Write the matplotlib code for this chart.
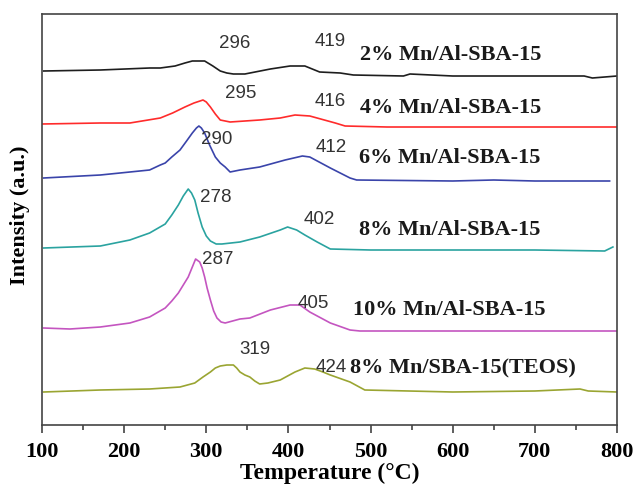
import matplotlib.pyplot as plt
from matplotlib.ticker import MultipleLocator

# TPR-type profiles, intensity in arbitrary units (stacked traces)
t_2 = [102, 171, 231, 244, 262, 274, 283, 298, 308, 317, 325, 333, 347, 378, 402, 420, 438, 463, 479, 540, 548, 600, 700, 760, 770, 800]
i_2 = [354, 355, 357, 357, 359, 362, 364, 364, 359, 354, 352, 351, 351, 356, 359, 359, 353, 352, 350, 349, 351, 349, 349, 349, 347, 349]

t_4 = [100, 171, 207, 244, 259, 274, 285, 296, 300, 305, 311, 317, 329, 347, 365, 390, 408, 426, 457, 469, 520, 600, 700, 800]
i_4 = [301, 302, 302, 307, 312, 318, 322, 325, 323, 318, 311, 305, 303, 304, 305, 307, 310, 309, 302, 299, 298, 298, 298, 298]

t_6 = [102, 171, 231, 244, 250, 258, 268, 276, 283, 288, 291, 294, 298, 304, 311, 317, 323, 329, 341, 365, 396, 417, 426, 451, 475, 483, 600, 650, 700, 791]
i_6 = [247, 250, 255, 260, 262, 268, 275, 284, 292, 297, 299, 297, 292, 280, 268, 262, 258, 253, 255, 258, 265, 269, 268, 257, 247, 245, 244, 245, 244, 244]

t_8 = [102, 171, 207, 231, 250, 258, 266, 272, 278, 282, 286, 290, 295, 300, 305, 312, 319, 341, 365, 390, 399, 410, 420, 435, 451, 500, 600, 700, 785, 795]
i_8 = [177, 179, 185, 192, 201, 210, 220, 229, 236, 232, 225, 212, 198, 189, 184, 181, 181, 183, 188, 195, 198, 195, 190, 183, 176, 175, 175, 175, 174, 178]

t_10 = [102, 134, 171, 207, 231, 250, 258, 266, 272, 278, 283, 287, 292, 295, 298, 301, 305, 309, 313, 318, 323, 341, 353, 378, 402, 414, 426, 451, 475, 487, 600, 700, 800]
i_10 = [97, 96, 98, 102, 108, 117, 124, 132, 140, 148, 158, 166, 163, 157, 148, 137, 125, 114, 107, 103, 102, 106, 107, 115, 120, 120, 113, 102, 95, 94, 94, 94, 94]

t_teos = [102, 171, 231, 268, 286, 296, 305, 311, 317, 325, 333, 337, 341, 347, 353, 359, 365, 375, 390, 408, 420, 432, 442, 451, 475, 493, 600, 700, 755, 765, 800]
i_teos = [33, 35, 36, 38, 42, 48, 53, 57, 59, 60, 60, 57, 53, 50, 48, 44, 41, 42, 45, 53, 57, 56, 53, 50, 43, 35, 33, 34, 36, 34, 33]

series = [
    (t_2, i_2, "#1e1e1e"),
    (t_4, i_4, "#ff2b2b"),
    (t_6, i_6, "#3a44aa"),
    (t_8, i_8, "#2aa3a0"),
    (t_10, i_10, "#c455c0"),
    (t_teos, i_teos, "#9aa532"),
]

names = ["2% Mn/Al-SBA-15", "4% Mn/Al-SBA-15", "6% Mn/Al-SBA-15",
         "8% Mn/Al-SBA-15", "10% Mn/Al-SBA-15", "8% Mn/SBA-15(TEOS)"]
name_pos = [(487, 370), (487, 317), (486, 267), (486, 195), (479, 115), (475, 57)]

peak_labels = ["296", "419", "295", "416", "290", "412", "278", "402", "287", "405", "319", "424"]
peak_pos = [(335, 382), (451, 383), (342, 332), (451, 323), (313, 286), (452, 278),
            (311, 227), (438, 205), (314, 165), (430, 122), (359, 75), (452, 57)]

serif = "Liberation Serif"

fig = plt.figure(figsize=(6.38, 4.84), dpi=100)
ax = fig.add_axes([42 / 638, 59 / 484, 575 / 638, 411 / 484])

for t, i, c in series:
    ax.plot(t, i, color=c, lw=1.2)

for txt, (x, y) in zip(names, name_pos):
    ax.text(x, y, txt, fontsize=16, fontweight="bold", family=serif,
            color="#1a1a1a", ha="left", va="center")

for txt, (x, y) in zip(peak_labels, peak_pos):
    ax.text(x, y, txt, fontsize=13.5, family="Liberation Sans",
            color="#333333", ha="center", va="center")

ax.set_xlim(100, 800)
ax.set_ylim(0, 411)
ax.xaxis.set_major_locator(MultipleLocator(100))
ax.xaxis.set_minor_locator(MultipleLocator(50))
ax.set_yticks([])
ax.tick_params(axis="x", which="major", direction="out", length=6, width=1.1,
               color="#333333", pad=6, labelsize=16)
ax.tick_params(axis="x", which="minor", direction="out", length=3.6, width=1.1,
               color="#333333")
for lab in ax.get_xticklabels():
    lab.set_family(serif)
    lab.set_fontweight("bold")
for sp in ax.spines.values():
    sp.set_color("#444444")
    sp.set_linewidth(1.2)

fig.text(330 / 638, 1 - 473 / 484, "Temperature (°C)", fontsize=17,
         fontweight="bold", family=serif, ha="center", va="center")
fig.text(20 / 638, 1 - 215 / 484, "Intensity (a.u.)", fontsize=16,
         fontweight="bold", family=serif, ha="center", va="center", rotation=90)

fig.savefig("out.png", dpi=100)
